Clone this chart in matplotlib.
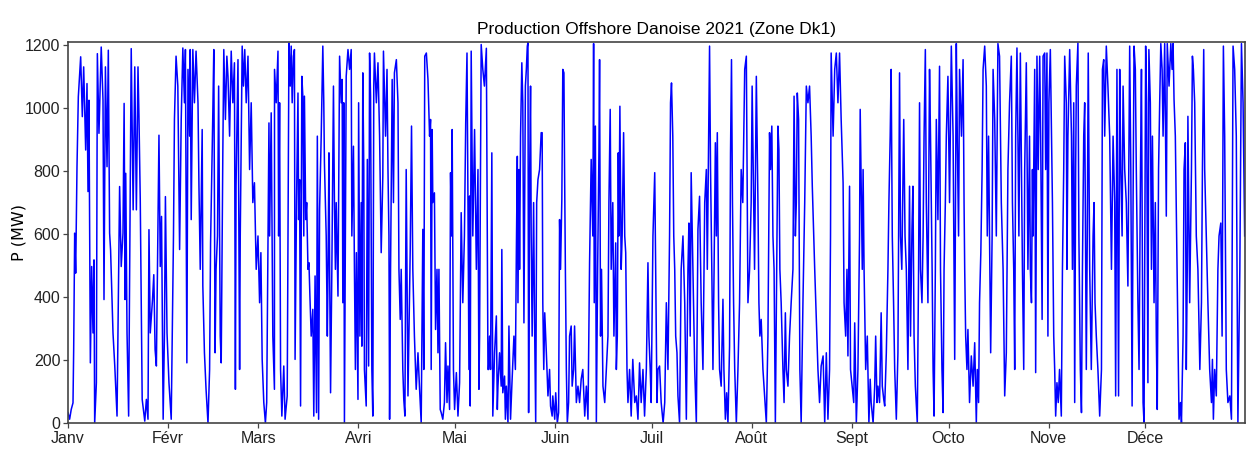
import numpy as np
import matplotlib
matplotlib.use("Agg")
import matplotlib.pyplot as plt

# ---- data: (day of year, MW) ----
seg1_t = [0.0, 0.5, 1.0, 1.55, 1.76, 2.07, 2.38, 2.79, 3.2, 3.93, 4.44, 4.86, 5.48, 5.89, 6.2, 6.5, 6.93, 7.34, 7.75, 8.06, 8.27, 8.8, 9.1, 9.6, 10.3, 10.85, 11.16, 11.6, 12.1, 12.5, 12.9, 13.2, 13.95, 14.5, 15.2, 15.6, 16.0, 16.5, 17.05, 17.4, 17.7, 17.9, 18.3, 18.8, 19.2, 19.6, 20.2, 20.7, 21.2, 21.7, 22.0, 22.4, 23.0, 23.8, 24.3, 24.8, 25.1, 25.5, 26.2, 26.6, 27.0, 27.4, 28.2, 28.6, 29.0, 29.5, 29.9, 30.2, 30.7, 31.3, 32.0]
seg1_p = [33, 12, 43, 64, 233, 603, 476, 814, 1036, 1163, 973, 1131, 867, 1078, 735, 1025, 191, 497, 286, 518, 0, 128, 1173, 920, 1194, 1025, 392, 1131, 814, 1184, 603, 550, 286, 181, 22, 392, 751, 497, 603, 1015, 392, 793, 286, 22, 603, 1189, 677, 1131, 677, 1131, 973, 709, 75, 6, 75, 12, 614, 286, 392, 471, 233, 181, 914, 497, 656, 12, 286, 719, 286, 128, 12]

seg2_t = [32.7, 33.0, 33.5, 34.05, 34.6, 35.1, 35.6, 36.1, 36.4, 36.85, 37.2, 37.7, 37.9, 38.2, 38.7, 39.2, 39.7, 40.3, 40.6, 41.0, 41.6, 41.8, 42.3, 42.8, 43.4, 43.9, 44.2, 44.6, 44.9, 45.2, 45.6, 45.9, 46.35, 46.7, 47.2, 47.5, 48.0, 48.3, 48.8, 49.25, 49.6, 50.1, 50.6, 51.1, 51.6, 51.9, 52.1, 52.7, 53.2, 53.4, 54.0, 54.4, 54.8, 55.25, 55.8, 56.3, 56.8, 57.3, 57.8, 58.35, 58.9, 59.4, 59.8, 60.2, 60.7, 61.2, 61.6, 62.3, 62.5, 63.0, 63.5, 64.0]
seg2_p = [594, 964, 1165, 1070, 551, 964, 1191, 1017, 1186, 191, 1123, 911, 1186, 646, 1186, 1017, 1181, 1017, 752, 488, 932, 435, 223, 107, 0, 170, 572, 805, 985, 1186, 223, 488, 594, 1070, 276, 191, 858, 1186, 964, 1165, 1101, 911, 1181, 1017, 1144, 107, 752, 1154, 170, 594, 1197, 1070, 1186, 1017, 1165, 805, 1017, 700, 763, 488, 594, 382, 541, 202, 65, 0, 65, 953, 594, 985, 276, 107]

seg3_t = [64.03, 64.55, 65.1, 65.3, 65.6, 65.9, 66.3, 66.9, 67.3, 67.96, 68.5, 68.9, 69.2, 69.5, 69.9, 70.2, 70.4, 70.85, 71.3, 71.5, 71.8, 72.1, 72.5, 72.8, 73.1, 73.3, 73.7, 74.0, 74.4, 74.7, 75.0, 75.4, 75.9, 76.2, 76.6, 77.05, 77.3, 77.7, 78.0, 78.5, 79.0, 79.3, 79.5, 80.05, 80.4, 80.6, 80.9, 81.1, 81.4, 81.8, 82.3, 82.6, 82.9, 83.15, 83.7, 84.2, 84.7, 85.0, 85.2, 85.5, 85.7, 86.25, 86.8, 87.3, 87.8, 88.0, 88.5, 88.8, 89.1, 89.4, 89.9, 90.1, 90.5, 90.9, 91.1, 91.4, 91.7, 91.9, 92.45, 92.8, 93.2, 93.5, 93.8, 94.2, 94.5, 94.8, 95.0, 95.6, 96.1, 96.6, 97.1, 97.6]
seg3_p = [1123, 1017, 1181, 594, 1017, 170, 22, 181, 12, 86, 1207, 1070, 1197, 1017, 1165, 1186, 202, 700, 1048, 646, 773, 54, 1101, 1038, 594, 1038, 646, 700, 488, 509, 403, 276, 361, 22, 467, 33, 911, 12, 678, 911, 1197, 1017, 826, 594, 276, 467, 858, 509, 96, 488, 1070, 700, 488, 700, 403, 1165, 1017, 1091, 382, 1017, 0, 1101, 1186, 1123, 1186, 594, 879, 488, 170, 541, 75, 1017, 276, 700, 244, 1112, 805, 170, 54, 837, 181, 1175, 1038, 170, 22, 1070, 1175, 1017, 1144, 911, 541, 784]

seg4_t = [97.8, 98.45, 98.9, 99.2, 99.5, 99.7, 100.0, 100.5, 100.9, 101.2, 101.8, 102.3, 102.6, 103.0, 103.3, 103.8, 104.1, 104.45, 104.85, 105.4, 105.7, 106.1, 106.5, 106.9, 107.4, 107.95, 108.5, 109.0, 109.5, 110.0, 110.3, 110.6, 111.1, 111.6, 112.1, 112.4, 112.6, 112.9, 113.1, 113.6, 113.95, 114.4, 114.7, 115.0, 115.4, 115.7, 116.2, 116.7, 117.05, 117.5, 117.8, 118.3, 118.6, 118.9, 119.1, 119.5, 119.85, 120.4, 120.9, 121.4, 121.9, 122.4, 122.9, 123.3, 123.7, 124.0, 124.3, 124.5, 124.7, 125.0, 125.5, 126.05, 126.6, 127.1, 127.4, 127.6, 128.1, 128.6, 129.1, 129.7, 130.2]
seg4_p = [1181, 911, 1123, 805, 594, 12, 488, 1091, 700, 1112, 1154, 1017, 488, 329, 488, 170, 75, 22, 805, 86, 276, 551, 943, 488, 276, 107, 223, 107, 0, 615, 170, 1165, 1175, 1091, 911, 964, 170, 932, 700, 731, 297, 488, 223, 488, 43, 33, 12, 65, 255, 65, 181, 43, 795, 594, 932, 170, 43, 160, 22, 128, 668, 382, 594, 953, 1175, 700, 170, 721, 54, 1181, 594, 932, 488, 805, 107, 276, 1202, 1123, 1070, 1190, 170]

seg5_t = [130.4, 130.7, 131.0, 131.4, 131.7, 132.25, 132.8, 133.1, 133.3, 133.8, 134.3, 134.5, 134.8, 135.35, 135.6, 135.9, 136.4, 136.7, 137.2, 137.6, 138.25, 138.7, 139.0, 139.3, 139.5, 139.8, 140.0, 140.3, 140.7, 141.0, 141.35, 141.8, 142.1, 142.4, 142.6, 142.8, 143.1, 143.4, 143.6, 143.9, 144.35, 144.65, 145.0, 145.3, 145.7, 146.2, 146.7, 147.0, 147.2, 147.5, 147.8, 148.3, 148.8, 149.3, 149.6, 150.1, 150.3, 150.9, 151.2, 151.7, 152.1, 152.4, 152.7, 153.1, 153.4, 153.75, 153.95, 154.2, 154.5, 154.8, 155.2, 155.5, 156.0, 156.3, 156.75, 157.05, 157.6, 158.1, 158.6, 159.1, 159.6, 160.2, 160.7, 161.2, 161.7, 162.2, 162.7]
seg5_p = [170, 276, 170, 858, 22, 223, 340, 43, 117, 223, 117, 551, 96, 149, 12, 117, 0, 308, 12, 117, 276, 170, 541, 847, 382, 805, 488, 911, 1144, 1017, 318, 1070, 1123, 1197, 1208, 33, 763, 1070, 594, 276, 700, 318, 0, 700, 773, 805, 922, 922, 382, 170, 350, 223, 86, 170, 54, 22, 86, 12, 96, 0, 33, 646, 488, 710, 1123, 1112, 805, 488, 170, 0, 65, 276, 308, 117, 170, 308, 65, 117, 65, 139, 170, 22, 117, 12, 509, 837, 594]

seg6_t = [162.95, 163.15, 163.5, 163.8, 164.2, 164.6, 164.8, 165.1, 165.4, 165.85, 166.4, 166.9, 167.4, 167.7, 168.1, 168.4, 168.9, 169.25, 169.8, 170.0, 170.3, 170.6, 170.8, 171.1, 171.5, 171.8, 172.25, 172.6, 172.9, 173.3, 173.6, 174.1, 174.6, 175.1, 175.7, 176.2, 176.7, 177.2, 177.7, 178.25, 178.75, 179.3, 179.8, 180.1, 180.5, 180.8, 181.35, 181.9, 182.2, 182.6, 182.9, 183.4, 183.9, 184.5, 185.0, 185.5, 186.0, 186.5, 186.8, 187.1, 187.5, 187.8, 188.1, 188.4, 188.8, 189.1, 189.6, 190.1, 190.65, 191.2, 191.7, 192.2, 192.5, 192.9, 193.2, 193.75, 194.3, 194.8]
seg6_p = [1205, 382, 943, 0, 488, 858, 1154, 276, 488, 117, 65, 170, 276, 700, 996, 488, 700, 276, 572, 170, 276, 858, 594, 1006, 488, 594, 922, 594, 541, 170, 65, 170, 22, 202, 65, 86, 12, 191, 65, 170, 22, 170, 509, 276, 170, 65, 594, 795, 488, 65, 170, 181, 65, 0, 65, 382, 170, 594, 1017, 1080, 911, 594, 488, 276, 223, 86, 0, 488, 594, 382, 12, 488, 635, 276, 795, 488, 170, 0]

seg7_t = [195.3, 195.8, 196.3, 196.85, 197.4, 197.9, 198.2, 198.6, 198.9, 199.2, 199.6, 199.95, 200.3, 200.7, 201.0, 201.3, 201.7, 202.0, 202.5, 203.05, 203.35, 203.8, 204.2, 204.6, 205.1, 205.4, 205.7, 206.0, 206.35, 206.7, 207.2, 207.7, 208.2, 208.7, 209.2, 209.8, 210.3, 210.6, 210.8, 211.3, 211.8, 212.1, 212.45, 212.85, 213.4, 213.9, 214.2, 214.5, 214.9, 215.45, 215.97, 216.5, 217.0, 217.5, 217.8, 218.2, 218.55, 218.9, 219.3, 219.7, 220.1, 220.4, 220.7, 221.1, 221.65, 222.0, 222.4, 222.7, 223.2, 223.7, 224.2, 224.75, 225.1, 225.5, 225.8, 226.1, 226.5, 226.9, 227.3]
seg7_p = [615, 720, 382, 170, 700, 805, 488, 911, 1197, 805, 488, 170, 488, 890, 594, 922, 382, 170, 117, 393, 170, 12, 96, 0, 244, 858, 1154, 700, 382, 170, 0, 170, 382, 805, 700, 1123, 1165, 700, 382, 488, 700, 1070, 805, 488, 1101, 700, 382, 276, 329, 170, 86, 0, 276, 922, 805, 943, 594, 488, 0, 488, 943, 869, 488, 382, 170, 65, 350, 170, 117, 276, 382, 488, 1038, 594, 700, 1048, 964, 170, 0]

seg8_t = [227.85, 228.4, 228.9, 229.4, 229.9, 230.4, 230.75, 231.2, 231.5, 232.0, 232.5, 233.0, 233.5, 234.1, 234.6, 235.1, 235.6, 236.1, 236.4, 236.6, 237.2, 237.7, 238.2, 238.7, 239.2, 239.7, 240.3, 240.6, 241.1, 241.5, 241.8, 242.3, 242.6, 243.1, 243.6, 243.9, 244.4, 244.9, 245.4, 245.6, 245.9, 246.25, 246.5, 246.8, 247.3, 247.8, 248.3, 248.7, 249.0, 249.6, 250.1, 250.4, 250.8, 251.1, 251.6, 252.1, 252.45, 252.9, 253.2, 253.7, 254.2, 254.5, 254.9, 255.2, 255.55, 255.95, 256.3, 256.8, 257.3, 257.8, 258.1, 258.5, 259.1, 259.5, 259.9]
seg8_p = [382, 700, 1070, 1017, 1070, 911, 752, 594, 488, 329, 170, 65, 181, 213, 0, 223, 12, 170, 594, 1175, 911, 1123, 1175, 1017, 1175, 964, 763, 382, 276, 488, 213, 752, 170, 117, 65, 318, 0, 170, 594, 996, 752, 488, 805, 488, 170, 276, 0, 139, 65, 0, 117, 276, 65, 117, 65, 350, 117, 75, 54, 223, 488, 700, 911, 1123, 594, 382, 170, 12, 223, 1112, 594, 488, 964, 594, 488]

seg9_t = [260.4, 260.9, 261.2, 261.65, 261.95, 262.3, 262.7, 263.3, 263.7, 264.0, 264.3, 264.75, 265.1, 265.4, 265.8, 266.1, 266.6, 267.1, 267.4, 267.9, 268.2, 268.5, 268.9, 269.2, 269.7, 270.2, 270.5, 270.95, 271.3, 271.6, 272.0, 272.3, 272.8, 273.3, 273.85, 274.4, 274.9, 275.4, 275.7, 276.1, 276.4, 277.0, 277.5, 277.8, 278.0, 278.3, 278.7, 279.0, 279.5, 280.05, 280.6, 281.1, 281.6, 281.9, 282.3, 282.6, 283.0, 283.4, 283.7, 284.2, 284.7, 285.0, 285.4, 285.7, 286.05, 286.5, 286.8, 287.3, 287.8, 288.3, 288.8, 289.35, 289.9, 290.4, 290.9, 291.4, 291.9]
seg9_p = [170, 752, 276, 615, 752, 276, 117, 0, 488, 1017, 488, 382, 594, 911, 1186, 700, 382, 1123, 911, 488, 170, 22, 488, 964, 646, 1133, 488, 170, 33, 488, 700, 911, 1101, 700, 1197, 911, 202, 1205, 911, 594, 1123, 911, 1154, 700, 488, 276, 170, 297, 65, 213, 117, 255, 0, 170, 65, 382, 541, 805, 1123, 1197, 1070, 594, 911, 594, 223, 594, 1123, 964, 594, 1205, 1165, 700, 488, 86, 223, 805, 1017]

seg10_t = [292.45, 292.8, 293.2, 293.5, 293.8, 294.2, 294.5, 294.8, 295.25, 295.6, 295.9, 296.3, 296.6, 297.1, 297.3, 297.6, 298.1, 298.35, 298.7, 299.0, 299.2, 299.7, 300.0, 300.4, 300.8, 301.25, 301.55, 302.0, 302.3, 302.8, 303.1, 303.5, 303.8, 304.1, 304.55, 304.9, 305.2, 305.6, 305.9, 306.2, 306.6, 307.0, 307.4, 307.95, 308.3, 308.7, 309.0, 309.5, 309.7, 310.0, 310.55, 311.1, 311.4, 311.8, 312.1, 312.4, 312.6, 313.1, 313.4, 313.85, 314.2, 314.5, 314.9, 315.2, 315.7, 316.0, 316.3, 316.75, 317.25, 317.8, 318.1, 318.4, 318.8, 319.3, 319.85, 320.4, 320.7, 321.1, 321.4, 321.9, 322.4, 322.95, 323.5, 324.0, 324.5, 324.8, 325.2]
seg10_p = [1165, 700, 488, 170, 911, 1191, 911, 594, 1175, 805, 488, 170, 805, 1144, 911, 488, 911, 488, 382, 805, 594, 1123, 160, 1165, 805, 1165, 911, 329, 1165, 1175, 805, 1175, 276, 1017, 1186, 911, 700, 276, 170, 22, 128, 65, 170, 22, 488, 805, 1165, 1017, 488, 911, 1186, 911, 488, 1017, 65, 805, 1070, 1207, 594, 170, 33, 488, 911, 1017, 170, 594, 1175, 488, 170, 594, 700, 382, 276, 170, 22, 170, 1123, 1154, 911, 1197, 1070, 911, 488, 911, 700, 86, 1123]

seg11_t = [325.7, 326.05, 326.4, 326.8, 327.1, 327.6, 328.1, 328.6, 329.15, 329.5, 329.9, 330.2, 330.5, 330.9, 331.2, 331.7, 332.05, 332.5, 332.8, 333.3, 333.6, 333.8, 334.1, 334.4, 334.8, 335.1, 335.55, 335.9, 336.2, 336.7, 337.1, 337.4, 337.7, 338.1, 338.45, 338.8, 339.2, 339.5, 340.0, 340.5, 340.8, 341.35, 341.9, 342.3, 342.6, 342.9, 343.3, 343.7, 344.1, 344.45, 344.9, 345.2, 345.7, 346.0, 346.4, 346.7, 347.0, 347.2, 347.75, 348.3, 348.6, 348.9, 349.3, 349.8, 350.3, 350.9, 351.4, 351.7, 352.1, 352.4, 352.9, 353.4, 353.95, 354.5, 354.8, 355.1, 355.5, 356.0, 356.5, 356.85, 357.4, 357.8, 358.2, 358.6, 359.1, 359.6, 360.2, 360.7, 361.2, 361.7, 362.2, 362.7, 363.3, 363.8, 364.3, 364.8]
seg11_p = [86, 1123, 805, 594, 1070, 805, 700, 435, 1197, 805, 54, 700, 1197, 1123, 805, 382, 170, 805, 1123, 65, 0, 488, 1197, 1017, 128, 1186, 1017, 488, 911, 382, 700, 276, 43, 805, 1017, 1205, 1123, 911, 1205, 657, 1205, 1070, 1205, 1123, 1205, 1027, 911, 594, 276, 12, 65, 0, 276, 805, 890, 170, 488, 974, 382, 805, 1165, 1123, 1017, 594, 488, 170, 382, 805, 1186, 805, 594, 382, 170, 65, 202, 12, 170, 86, 488, 594, 635, 276, 1197, 911, 170, 65, 86, 12, 1197, 1123, 911, 0, 488, 1205, 1017, 594]

month_starts = [0, 31, 59, 90, 120, 151, 181, 212, 243, 273, 304, 334]
month_labels = ['Janv', 'Févr', 'Mars', 'Avri', 'Mai', 'Juin', 'Juil', 'Août', 'Sept', 'Octo', 'Nove', 'Déce']
y_ticks = [0, 200, 400, 600, 800, 1000, 1200]

t = np.concatenate([seg1_t, seg2_t, seg3_t, seg4_t, seg5_t, seg6_t, seg7_t, seg8_t, seg9_t, seg10_t, seg11_t])
p = np.concatenate([seg1_p, seg2_p, seg3_p, seg4_p, seg5_p, seg6_p, seg7_p, seg8_p, seg9_p, seg10_p, seg11_p])
order = np.argsort(t, kind='stable')
t, p = t[order], p[order]

narrow = ['Liberation Sans', 'DejaVu Sans']
plt.rcParams['font.family'] = ['DejaVu Sans']
fig = plt.figure(figsize=(12.47, 4.54), dpi=100)
ax = fig.add_axes([68/1247, 1 - 423/454, (1245-68)/1247, (423-42)/454])
ax.plot(t, p, color='blue', linewidth=1.1)
ax.set_xlim(0, 364.9)
ax.set_ylim(0, 1210)
ax.set_xticks(month_starts)
ax.set_xticklabels(month_labels, fontsize=11.5, family=narrow)
ax.set_yticks(y_ticks)
ax.set_yticklabels([str(v) for v in y_ticks], fontsize=11.5, family=narrow)
ax.set_ylabel('P (MW)', fontsize=11.5)
ax.yaxis.set_label_coords(-0.035, 0.5)
ax.set_title('Production Offshore Danoise 2021 (Zone Dk1)', fontsize=12.5, family=narrow, pad=6)
for s in ax.spines.values():
    s.set_color('#444444')
    s.set_linewidth(1.2)
ax.tick_params(direction='out', length=3.5, width=0.9, colors='#444444', labelcolor='#222222', pad=2)
fig.savefig('out.png', dpi=100)
